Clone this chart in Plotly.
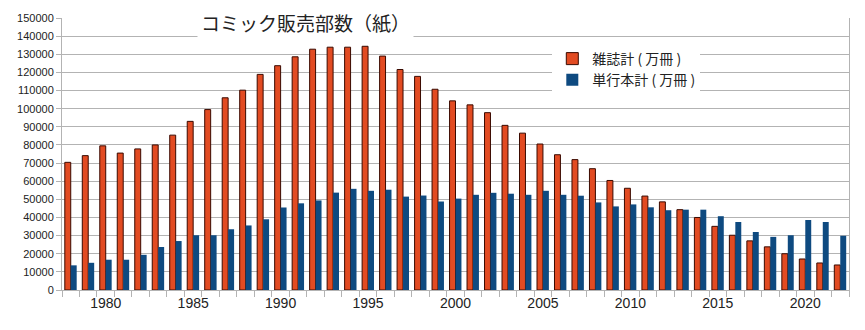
import plotly.graph_objects as go

years = list(range(1978, 2023))
magazines = [70400, 74100, 79500, 75500, 77800, 80000, 85400, 93000, 99500, 106000,
             110200, 118900, 123700, 128600, 132800, 133900, 133900, 134400, 129000, 121600,
             117800, 110700, 104300, 102100, 97800, 90800, 86500, 80500, 74600, 71900,
             66900, 60400, 56100, 51800, 48600, 44300, 40000, 35100, 30200, 27100,
             23800, 20000, 17100, 14900, 13800]
books = [13600, 15000, 16700, 16700, 19400, 23700, 27000, 30200, 30200, 33500,
         35600, 39000, 45500, 47800, 49400, 53700, 55800, 54700, 55300, 51500,
         52100, 48800, 50400, 52500, 53600, 53100, 52500, 54700, 52500, 52000,
         48300, 46100, 47200, 45600, 44000, 44300, 44300, 40700, 37500, 32000,
         29300, 30200, 38600, 37500, 29900]
series_names = ["雑誌計 ( 万冊 )", "単行本計 ( 万冊 )"]
title_text = "コミック販売部数（紙）"
x_tick_years = [1980, 1985, 1990, 1995, 2000, 2005, 2010, 2015, 2020]
y_ticks = list(range(0, 150001, 10000))

fig = go.Figure()
fig.add_trace(go.Bar(x=years, y=magazines, name=series_names[0],
                     marker=dict(color="#E24B22", line=dict(color="#3a0a00", width=1))))
fig.add_trace(go.Bar(x=years, y=books, name=series_names[1],
                     marker=dict(color="#0E4A80", line=dict(width=0))))

fig.update_layout(
    width=865, height=330,
    margin=dict(l=62, r=16, t=13, b=40),
    paper_bgcolor="white", plot_bgcolor="white",
    barmode="group", bargap=0.32, bargroupgap=0,
    font=dict(family="Liberation Sans, Arial, sans-serif", color="#222"),
    legend=dict(x=0.623, y=0.908, xanchor="left", yanchor="top",
                bgcolor="white", font=dict(size=14, family="Noto Sans CJK JP", color="#222"),
                itemwidth=30, tracegroupgap=0),
    annotations=[dict(text=title_text, x=0.31, y=0.983, xref="paper", yref="paper",
                      xanchor="center", yanchor="middle", showarrow=False,
                      font=dict(size=19, family="Noto Sans CJK JP", color="#222"),
                      bgcolor="white", borderpad=3)],
)

fig.update_xaxes(
    range=[1977.5, 2022.5], tickmode="array", tickvals=x_tick_years,
    ticktext=[str(y) for y in x_tick_years], ticks="outside", ticklen=0,
    tickfont=dict(size=14, color="#222"),
    showgrid=False, showline=True, linecolor="#b3b3b3", linewidth=1,
    minor=dict(ticks="outside", ticklen=6, tick0=1977.5, dtick=1, tickcolor="#b3b3b3", showgrid=False),
    zeroline=False,
)
fig.update_yaxes(
    range=[0, 150000], tickmode="array", tickvals=y_ticks,
    ticktext=[str(v) for v in y_ticks], ticks="outside", ticklen=5, tickcolor="#b3b3b3",
    tickfont=dict(size=11, color="#222"),
    showgrid=True, gridcolor="#b3b3b3", gridwidth=1,
    showline=True, linecolor="#b3b3b3", linewidth=1, mirror=True,
    zeroline=False,
)

fig.write_html("out.html")
